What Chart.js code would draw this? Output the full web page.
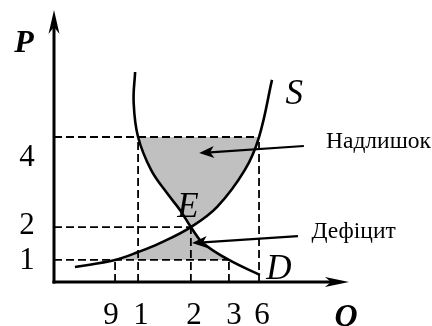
<!DOCTYPE html>
<html>
<head>
<meta charset="utf-8">
<script src="https://cdn.jsdelivr.net/npm/chart.js@4.4.0/dist/chart.umd.min.js"></script>
<style>
    html, body { margin: 0; padding: 0; background: #fff; }
</style>
</head>
<body>
<canvas id="chart" width="432" height="326"></canvas>
<script>
// both axes run 0..10 in chart units
const qTicks = [2.07, 2.85, 4.64, 5.93, 6.95];
const qLabels = ["9", "1", "2", "3", "6"];
const pTicks = [0.81, 2.02, 5.33];
const pLabels = ["1", "2", "4"];

// demand curve D, read from top to bottom
const demandQ = [2.75, 2.70, 2.85, 3.29, 3.83, 4.27, 4.64, 5.05, 5.93, 6.98];
const demandP = [7.72, 6.60, 5.33, 4.12, 3.27, 2.65, 2.02, 1.43, 0.81, 0.26];

// supply curve S, read from top to bottom
const supplyQ = [7.39, 6.95, 6.47, 5.53, 4.64, 3.59, 2.85, 2.07, 0.71];
const supplyP = [7.43, 5.33, 4.12, 2.76, 2.02, 1.43, 1.10, 0.81, 0.55];

// dashed guides: which P level each Q line reaches, which Q each P line reaches
const qGuideTop = [0, 2, 1, 0, 2];
const pGuideEnd = [3, 2, 4];

const toPoints = (qs, ps) => qs.map((q, i) => ({ x: q, y: ps[i] }));

const curveStyle = {
    borderColor: "#000",
    borderWidth: 2.6,
    pointRadius: 0,
    fill: false,
    indexAxis: "y",
    tension: 0.4
};
const guideStyle = {
    borderColor: "#000",
    borderWidth: 1.8,
    borderDash: [8, 4],
    pointRadius: 0,
    fill: false,
    tension: 0
};

const datasets = [
    { label: "D", data: toPoints(demandQ, demandP), ...curveStyle },
    { label: "S", data: toPoints(supplyQ, supplyP), ...curveStyle }
];
qTicks.forEach((q, i) => {
    datasets.push({ label: "q" + i, data: [{ x: q, y: 0 }, { x: q, y: pTicks[qGuideTop[i]] }], ...guideStyle });
});
pTicks.forEach((p, i) => {
    datasets.push({ label: "p" + i, data: [{ x: 0, y: p }, { x: qTicks[pGuideEnd[i]], y: p }], ...guideStyle });
});

function arrowHead(ctx, tx, ty, fx, fy, len, half, notch) {
    const ang = Math.atan2(ty - fy, tx - fx);
    ctx.save();
    ctx.translate(tx, ty);
    ctx.rotate(ang);
    ctx.beginPath();
    ctx.moveTo(0, 0);
    ctx.lineTo(-len, -half);
    ctx.lineTo(-len + notch, 0);
    ctx.lineTo(-len, half);
    ctx.closePath();
    ctx.fill();
    ctx.restore();
}

function arrowLine(ctx, fx, fy, tx, ty, width, len, half, notch) {
    const ang = Math.atan2(ty - fy, tx - fx);
    const ex = tx - Math.cos(ang) * (len - notch);
    const ey = ty - Math.sin(ang) * (len - notch);
    ctx.lineWidth = width;
    ctx.beginPath();
    ctx.moveTo(fx, fy);
    ctx.lineTo(ex, ey);
    ctx.stroke();
    arrowHead(ctx, tx, ty, fx, fy, len, half, notch);
}

const sketch = {
    id: "sketch",
    // grey surplus / deficit areas between the curves, inside the P1..P4 band
    beforeDatasetsDraw(chart) {
        const { ctx, chartArea, scales: { y } } = chart;
        const d = chart.getDatasetMeta(0).dataset;
        const s = chart.getDatasetMeta(1).dataset;
        const top = y.getPixelForValue(pTicks[2]);
        const bottom = y.getPixelForValue(pTicks[0]);
        ctx.save();
        ctx.beginPath();
        ctx.rect(chartArea.left, top, chartArea.right - chartArea.left, bottom - top);
        ctx.clip();
        ctx.beginPath();
        d.path(ctx);
        s.pathSegment(ctx, s.segments[0], { move: false, reverse: true });
        ctx.closePath();
        ctx.fillStyle = "#c0c0c0";
        ctx.fill();
        ctx.restore();
    },
    afterDraw(chart) {
        const { ctx, scales: { x, y } } = chart;
        const px = v => x.getPixelForValue(v);
        const py = v => y.getPixelForValue(v);
        ctx.save();
        ctx.strokeStyle = "#000";
        ctx.fillStyle = "#000";

        // axes with arrows
        const x0 = px(0), y0 = py(0);
        arrowLine(ctx, x0, y0 + 1.5, x0, py(10), 3, 24, 5.5, 7);
        arrowLine(ctx, x0 - 1.5, y0, px(10), y0, 3, 24, 5, 6);

        // pointer arrows for the labels
        arrowLine(ctx, px(8.47), py(5.0), px(4.92), py(4.74), 2.2, 15, 6, 4);
        arrowLine(ctx, px(8.27), py(1.69), px(4.68), py(1.43), 2.2, 15, 6, 4);

        // tick labels
        ctx.font = "31px 'Liberation Serif'";
        ctx.textAlign = "center";
        ctx.textBaseline = "middle";
        const qNudge = [-4, 3, 3, 5, 3];
        qTicks.forEach((q, i) => ctx.fillText(qLabels[i], px(q) + qNudge[i], 316));
        const pNudge = [1, -1, 21];
        pTicks.forEach((p, i) => ctx.fillText(pLabels[i], 27, py(p) + pNudge[i]));

        // axis names
        ctx.font = "bold italic 32px 'Liberation Serif'";
        ctx.fillText("P", 24, 44);
        ctx.fillText("Q", 346, 318);

        // curve names
        ctx.font = "italic 35px 'Liberation Serif'";
        ctx.fillText("S", px(8.14), py(6.88));
        ctx.fillText("E", px(4.54), py(2.72));
        ctx.fillText("D", px(7.62), py(0.44));

        // annotations
        ctx.font = "23.5px 'Liberation Serif'";
        ctx.textAlign = "left";
        ctx.textBaseline = "alphabetic";
        ctx.fillText("Надлишок", px(9.22), py(4.93));
        ctx.fillText("Дефіцит", px(8.73), py(1.62));
        ctx.restore();
    }
};

new Chart(document.getElementById("chart").getContext("2d"), {
    type: "line",
    data: { datasets },
    options: {
        responsive: false,
        animation: false,
        layout: { padding: { left: 54, right: 83, top: 10, bottom: 44 } },
        scales: {
            x: { type: "linear", min: 0, max: 10, display: false },
            y: { type: "linear", min: 0, max: 10, display: false }
        },
        plugins: {
            legend: { display: false },
            tooltip: { enabled: false }
        }
    },
    plugins: [sketch]
});
</script>
</body>
</html>
